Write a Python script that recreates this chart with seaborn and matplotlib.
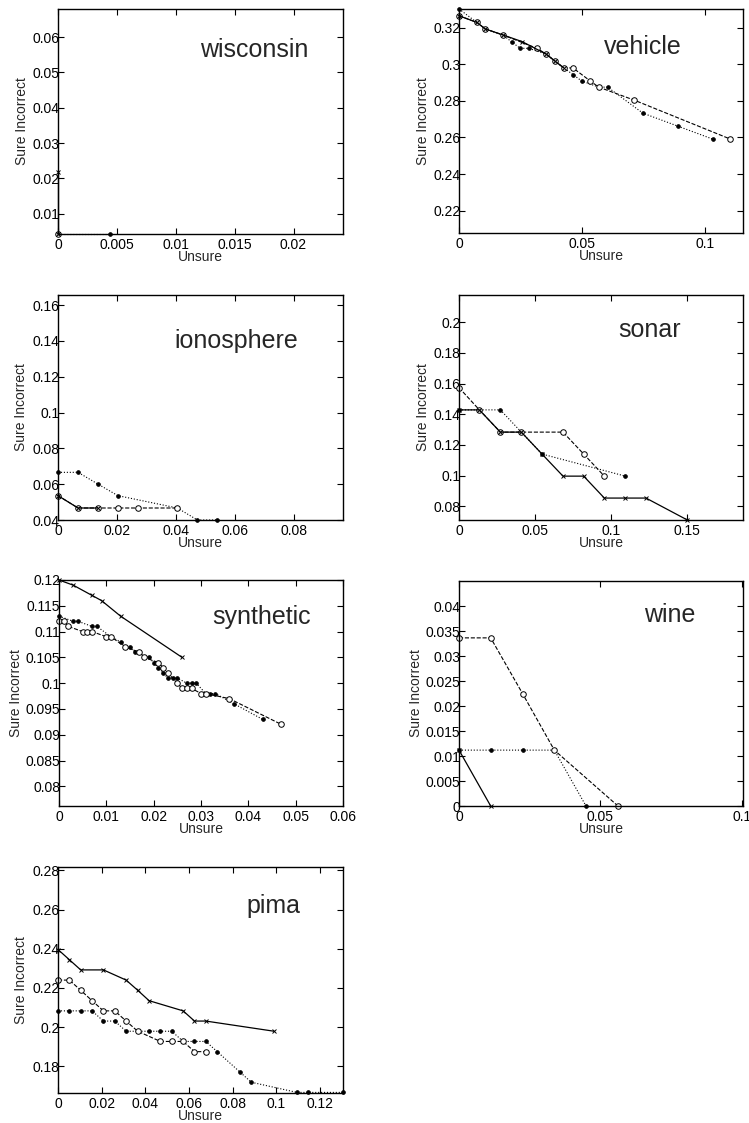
import matplotlib
matplotlib.use("Agg")
import matplotlib.pyplot as plt
import seaborn as sns

# ---- data ------------------------------------------------------------------
wisconsin_solid_x = [0, 0]
wisconsin_solid_y = [0.0219, 0.0043]
wisconsin_dash_x = [0]
wisconsin_dash_y = [0.0043]
wisconsin_dot_x = [0, 0.0044]
wisconsin_dot_y = [0.0043, 0.0043]

vehicle_solid_x = [0, 0.0072, 0.0107, 0.0179, 0.0256, 0.0355, 0.0391, 0.0426]
vehicle_solid_y = [0.3265, 0.3229, 0.3193, 0.316, 0.3124, 0.3055, 0.3016, 0.298]
vehicle_dash_x = [0, 0.0072, 0.0107, 0.0179, 0.0317, 0.0355, 0.0391, 0.0426,
                  0.0463, 0.0533, 0.0568, 0.0712, 0.1103]
vehicle_dash_y = [0.3265, 0.3229, 0.3193, 0.316, 0.3087, 0.3055, 0.3016, 0.298,
                  0.298, 0.2909, 0.2875, 0.2804, 0.2591]
vehicle_dot_x = [0, 0.0072, 0.0107, 0.0179, 0.0214, 0.0249, 0.0284, 0.0355,
                 0.0391, 0.0426, 0.0463, 0.0498, 0.0568, 0.0604, 0.0747, 0.0889, 0.1031]
vehicle_dot_y = [0.3302, 0.3229, 0.3193, 0.316, 0.3122, 0.3087, 0.3087, 0.3055,
                 0.3016, 0.298, 0.2944, 0.2909, 0.2875, 0.2875, 0.2733, 0.2662, 0.2591]

ionosphere_solid_x = [0, 0.0068, 0.0135]
ionosphere_solid_y = [0.0536, 0.0467, 0.0467]
ionosphere_dash_x = [0, 0.0068, 0.0135, 0.0203, 0.027, 0.0405]
ionosphere_dash_y = [0.0536, 0.0467, 0.0467, 0.0467, 0.0467, 0.0467]
ionosphere_dot_x = [0, 0.0068, 0.0135, 0.0203, 0.0405, 0.0473, 0.054]
ionosphere_dot_y = [0.0666, 0.0666, 0.0601, 0.0536, 0.0467, 0.04, 0.04]

sonar_solid_x = [0, 0.0134, 0.0272, 0.041, 0.0546, 0.0684, 0.082, 0.0956,
                 0.1092, 0.123, 0.1502]
sonar_solid_y = [0.1429, 0.1429, 0.1284, 0.1284, 0.1141, 0.0997, 0.0997, 0.0854,
                 0.0854, 0.0854, 0.0711]
sonar_dash_x = [0, 0.0134, 0.0272, 0.041, 0.0684, 0.082, 0.0956]
sonar_dash_y = [0.1574, 0.1429, 0.1284, 0.1284, 0.1284, 0.1141, 0.0997]
sonar_dot_x = [0, 0.0134, 0.0272, 0.041, 0.0546, 0.1094]
sonar_dot_y = [0.1429, 0.1429, 0.1429, 0.1284, 0.1141, 0.0997]

synthetic_solid_x = [0, 0.003, 0.007, 0.009, 0.013, 0.026]
synthetic_solid_y = [0.12, 0.119, 0.117, 0.116, 0.113, 0.105]
synthetic_dash_x = [0, 0.001, 0.002, 0.005, 0.006, 0.007, 0.01, 0.011, 0.014,
                    0.017, 0.018, 0.021, 0.022, 0.023, 0.025, 0.026, 0.027,
                    0.028, 0.03, 0.031, 0.036, 0.047]
synthetic_dash_y = [0.112, 0.112, 0.111, 0.11, 0.11, 0.11, 0.109, 0.109, 0.107,
                    0.106, 0.105, 0.104, 0.103, 0.102, 0.1, 0.099, 0.099,
                    0.099, 0.098, 0.098, 0.097, 0.092]
synthetic_dot_x = [0, 0.003, 0.004, 0.007, 0.008, 0.011, 0.013, 0.014, 0.015,
                   0.016, 0.019, 0.02, 0.021, 0.022, 0.023, 0.024, 0.025,
                   0.027, 0.028, 0.029, 0.031, 0.032, 0.033, 0.037, 0.043]
synthetic_dot_y = [0.113, 0.112, 0.112, 0.111, 0.111, 0.109, 0.108, 0.107, 0.107,
                   0.106, 0.105, 0.104, 0.103, 0.102, 0.101, 0.101, 0.101,
                   0.1, 0.1, 0.1, 0.098, 0.098, 0.098, 0.096, 0.093]

wine_solid_x = [0, 0.0112]
wine_solid_y = [0.0112, 0]
wine_dash_x = [0, 0.0112, 0.0225, 0.0337, 0.0562]
wine_dash_y = [0.0337, 0.0337, 0.0225, 0.0112, 0]
wine_dot_x = [0, 0.0112, 0.0225, 0.0337, 0.0449]
wine_dot_y = [0.0112, 0.0112, 0.0112, 0.0112, 0]

pima_solid_x = [0, 0.0052, 0.0104, 0.0208, 0.0312, 0.0365, 0.0417, 0.0573,
                0.0625, 0.0677, 0.099]
pima_solid_y = [0.2396, 0.2344, 0.2292, 0.2292, 0.224, 0.2188, 0.2135, 0.2083,
                0.2031, 0.2031, 0.1979]
pima_dash_x = [0, 0.0052, 0.0104, 0.0156, 0.0208, 0.026, 0.0312, 0.0365,
               0.0469, 0.0521, 0.0573, 0.0625, 0.0677]
pima_dash_y = [0.224, 0.224, 0.2188, 0.2135, 0.2083, 0.2083, 0.2031, 0.1979,
               0.1927, 0.1927, 0.1927, 0.1875, 0.1875]
pima_dot_x = [0, 0.0052, 0.0104, 0.0156, 0.0208, 0.026, 0.0312, 0.0417, 0.0469,
              0.0521, 0.0573, 0.0625, 0.0677, 0.0729, 0.0833, 0.0885, 0.1094,
              0.1146, 0.1305]
pima_dot_y = [0.2083, 0.2083, 0.2083, 0.2083, 0.2031, 0.2031, 0.1979, 0.1979,
              0.1979, 0.1979, 0.1927, 0.1927, 0.1927, 0.1875, 0.1771, 0.1719,
              0.1667, 0.1667, 0.1667]

wisconsin_xticks = [0, 0.005, 0.01, 0.015, 0.02]
wisconsin_yticks = [0.01, 0.02, 0.03, 0.04, 0.05, 0.06]
vehicle_xticks = [0, 0.05, 0.1]
vehicle_yticks = [0.22, 0.24, 0.26, 0.28, 0.3, 0.32]
ionosphere_xticks = [0, 0.02, 0.04, 0.06, 0.08]
ionosphere_yticks = [0.04, 0.06, 0.08, 0.1, 0.12, 0.14, 0.16]
sonar_xticks = [0, 0.05, 0.1, 0.15]
sonar_yticks = [0.08, 0.1, 0.12, 0.14, 0.16, 0.18, 0.2]
synthetic_xticks = [0, 0.01, 0.02, 0.03, 0.04, 0.05, 0.06]
synthetic_yticks = [0.08, 0.085, 0.09, 0.095, 0.1, 0.105, 0.11, 0.115, 0.12]
wine_xticks = [0, 0.05, 0.1]
wine_yticks = [0, 0.005, 0.01, 0.015, 0.02, 0.025, 0.03, 0.035, 0.04]
pima_xticks = [0, 0.02, 0.04, 0.06, 0.08, 0.1, 0.12]
pima_yticks = [0.18, 0.2, 0.22, 0.24, 0.26, 0.28]


def draw_panel(ax, name, solid, dash, dot, xlim, ylim, xticks, yticks,
               name_pos, ylabel_x):
    """One MATLAB-looking panel with three curves."""
    common = dict(ax=ax, color="black", sort=False, estimator=None,
                  clip_on=False, markeredgecolor="black")
    sns.lineplot(x=dot[0], y=dot[1], linestyle=":", linewidth=0.8, marker=".",
                 markersize=5.5, markeredgewidth=0.5, **common)
    sns.lineplot(x=dash[0], y=dash[1], linestyle="--", linewidth=0.8, marker="o",
                 markersize=4, markerfacecolor="white", markeredgewidth=0.7,
                 dashes=(3.5, 2.5), **common)
    sns.lineplot(x=solid[0], y=solid[1], linestyle="-", linewidth=0.9, marker="x",
                 markersize=3, markeredgewidth=0.7, **common)

    ax.set_xlim(*xlim)
    ax.set_ylim(*ylim)
    ax.set_xticks(xticks)
    ax.set_yticks(yticks)
    ax.set_xticklabels(["%g" % t for t in xticks])
    ax.set_yticklabels(["%g" % t for t in yticks])
    ax.tick_params(direction="in", top=True, right=True, length=4, width=0.8,
                   labelsize=10, colors="black")
    ax.tick_params(axis="y", pad=-1)
    ax.tick_params(axis="x", pad=3)
    for side in ["top", "bottom", "left", "right"]:
        ax.spines[side].set_visible(True)
        ax.spines[side].set_linewidth(1.0)
        ax.spines[side].set_color("black")

    ax.set_xlabel("Unsure", fontsize=10)
    ax.set_ylabel("Sure Incorrect", fontsize=10)
    ax.xaxis.set_label_coords(0.5, -0.072)
    ax.yaxis.set_label_coords(ylabel_x, 0.5)
    ax.text(name_pos[0], name_pos[1], name, transform=ax.transAxes,
            fontsize=18, ha="left", va="baseline")


def main():
    sns.set_style("ticks")
    plt.rcParams["font.family"] = ["Liberation Sans", "DejaVu Sans"]

    W, H = 749, 1123
    fig = plt.figure(figsize=(W / 100, H / 100), dpi=100)

    def axes_at(left, top, width=285, height=225):
        return fig.add_axes([left / W, 1 - (top + height) / H, width / W, height / H])

    draw_panel(axes_at(58, 9), "wisconsin",
               (wisconsin_solid_x, wisconsin_solid_y),
               (wisconsin_dash_x, wisconsin_dash_y),
               (wisconsin_dot_x, wisconsin_dot_y),
               (0, 0.0242), (0.0042, 0.068), wisconsin_xticks, wisconsin_yticks,
               (0.5, 0.787), -0.103)
    draw_panel(axes_at(459, 9, 284, 224), "vehicle",
               (vehicle_solid_x, vehicle_solid_y),
               (vehicle_dash_x, vehicle_dash_y),
               (vehicle_dot_x, vehicle_dot_y),
               (0, 0.1154), (0.2078, 0.3302), vehicle_xticks, vehicle_yticks,
               (0.51, 0.80), -0.102)
    draw_panel(axes_at(58, 295), "ionosphere",
               (ionosphere_solid_x, ionosphere_solid_y),
               (ionosphere_dash_x, ionosphere_dash_y),
               (ionosphere_dot_x, ionosphere_dot_y),
               (0, 0.0967), (0.04, 0.1656), ionosphere_xticks, ionosphere_yticks,
               (0.41, 0.764), -0.105)
    draw_panel(axes_at(459, 295, 284, 225), "sonar",
               (sonar_solid_x, sonar_solid_y),
               (sonar_dash_x, sonar_dash_y),
               (sonar_dot_x, sonar_dot_y),
               (0, 0.1868), (0.0711, 0.2178), sonar_xticks, sonar_yticks,
               (0.56, 0.813), -0.102)
    draw_panel(axes_at(59, 580, 284, 226), "synthetic",
               (synthetic_solid_x, synthetic_solid_y),
               (synthetic_dash_x, synthetic_dash_y),
               (synthetic_dot_x, synthetic_dot_y),
               (0, 0.06), (0.0762, 0.12), synthetic_xticks, synthetic_yticks,
               (0.54, 0.805), -0.126)
    draw_panel(axes_at(459, 581, 284, 225), "wine",
               (wine_solid_x, wine_solid_y),
               (wine_dash_x, wine_dash_y),
               (wine_dot_x, wine_dot_y),
               (0, 0.1004), (0, 0.0451), wine_xticks, wine_yticks,
               (0.65, 0.818), -0.127)
    draw_panel(axes_at(58, 867, 285, 226), "pima",
               (pima_solid_x, pima_solid_y),
               (pima_dash_x, pima_dash_y),
               (pima_dot_x, pima_dot_y),
               (0, 0.1305), (0.1664, 0.2817), pima_xticks, pima_yticks,
               (0.66, 0.797), -0.105)

    fig.savefig("out.png", dpi=100, facecolor="white")
    plt.close(fig)


if __name__ == "__main__":
    main()
